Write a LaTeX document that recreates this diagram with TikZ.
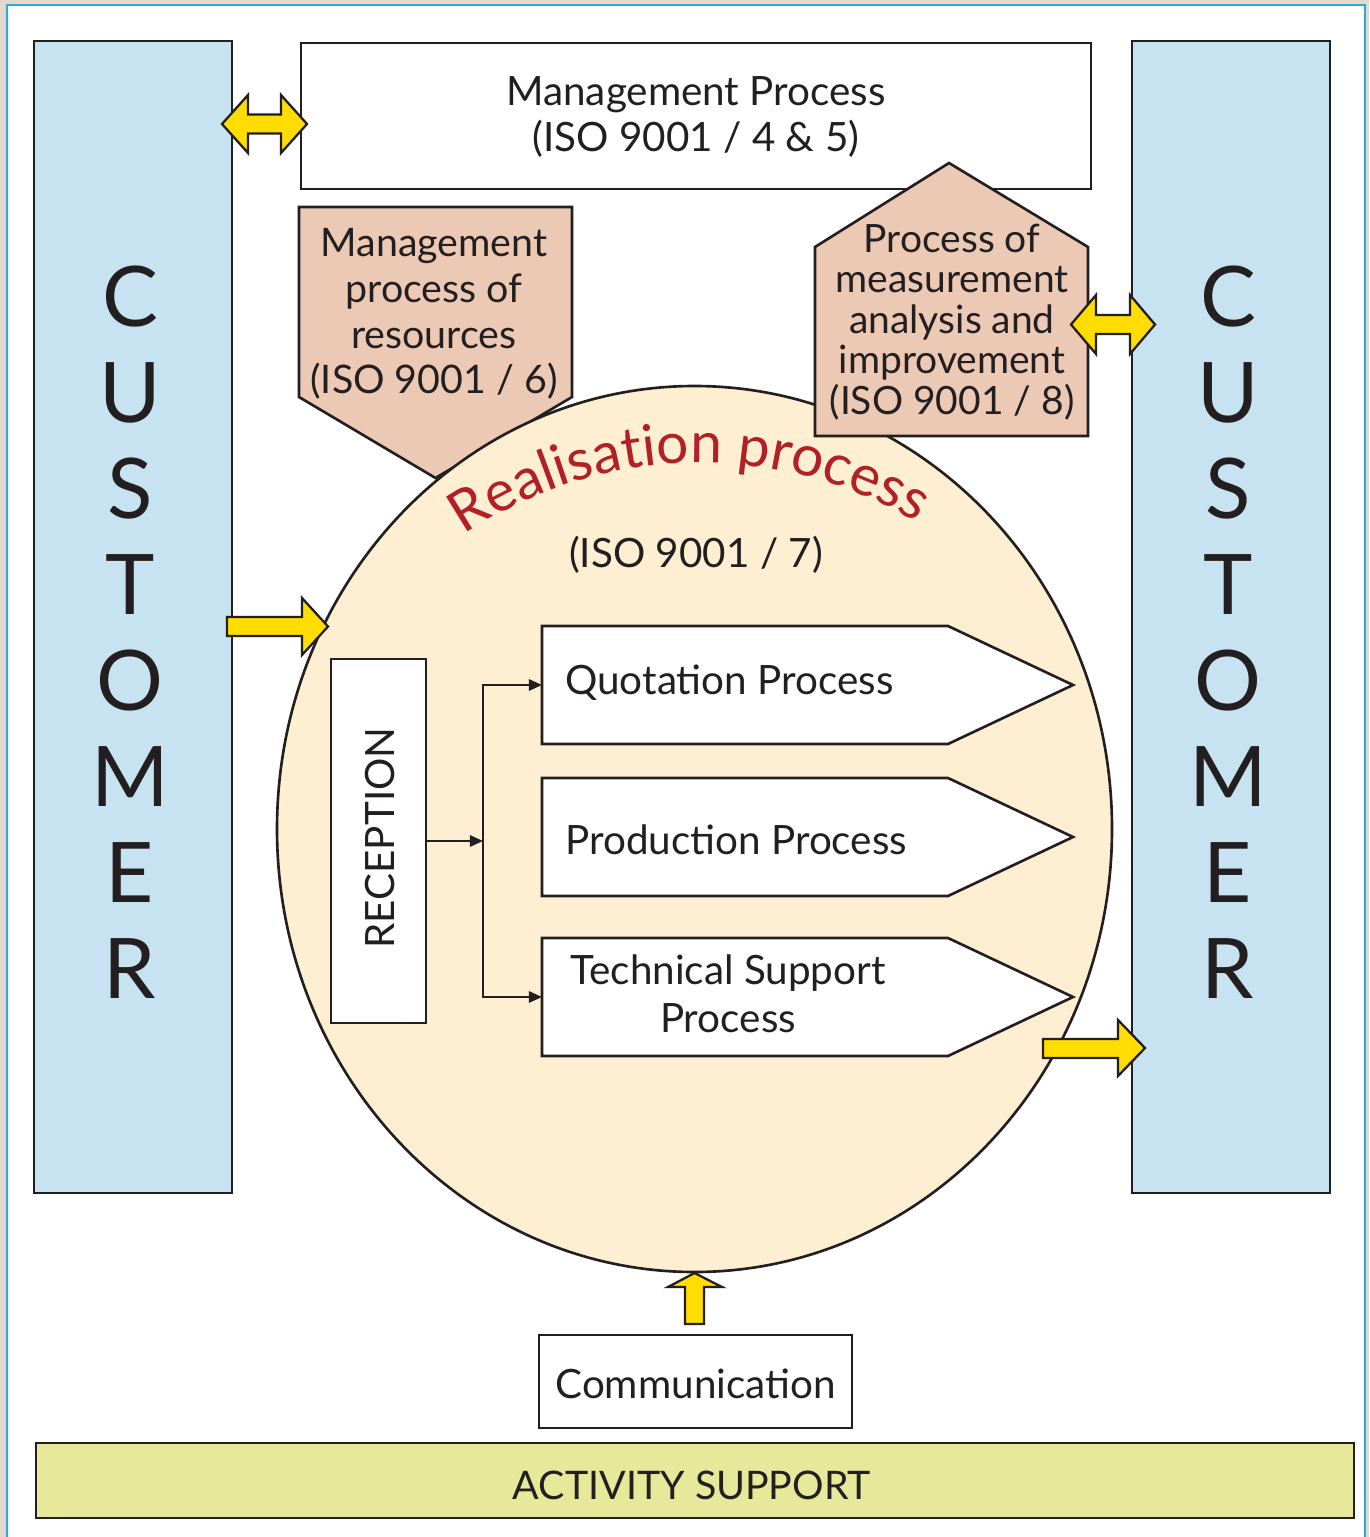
\documentclass[tikz,border=0pt]{standalone}
\usepackage{fontspec}
\setmainfont{Lato}
\usetikzlibrary{arrows.meta,decorations.text}
\definecolor{ink}{HTML}{231F20}
\definecolor{edge}{HTML}{E6D9CB}
\definecolor{framecol}{HTML}{29ABE2}
\definecolor{custblue}{HTML}{C7E2F0}
\definecolor{pent}{HTML}{ECC9B5}
\definecolor{cream}{HTML}{FEEFD3}
\definecolor{yel}{HTML}{FFDD00}
\definecolor{act}{HTML}{E6E999}
\definecolor{realred}{HTML}{B21F24}
\def\u{0.02cm}
\tikzset{
  box/.style={draw=ink, line width=1.5pt, outer sep=0pt, inner sep=0pt},
  txt/.style={text=ink, font=\fontsize{23}{26.7}\selectfont, align=center, inner sep=0pt},
  smalltxt/.style={text=ink, font=\fontsize{22.2}{23}\selectfont, align=center, inner sep=0pt},
  bigletter/.style={text=ink, font=\fontsize{47.6}{50}\selectfont, inner sep=0pt},
  yarr/.style={fill=yel, draw=ink, line width=1.3pt, line join=miter},
  conn/.style={draw=ink, line width=1.1pt, -{Triangle[length=7.5pt,width=6.5pt]}},
}
\begin{document}
\begin{tikzpicture}[x=0.02cm, y=-0.02cm]
\useasboundingbox (0,0) rectangle (1369,1537);
\fill[edge] (0,0) rectangle (1369,1537);
\draw[framecol, line width=1.3pt, fill=white] (7,5) rectangle (1365,1570);

% customer columns
\node[box, fill=custblue, minimum width=198*\u, minimum height=1152*\u] (custL) at (133,617) {};
\node[box, fill=custblue, minimum width=198*\u, minimum height=1152*\u] (custR) at (1231,617) {};
\foreach \l [count=\i from 0] in {C,U,S,T,O,M,E,R}{
  \node[bigletter] (cl\i) at (130,297+96*\i) {\l};
  \node[bigletter] (cr\i) at (1228,297+96*\i) {\l};
}

% management process
\node[box, fill=white, minimum width=790*\u, minimum height=146*\u] (mgmt) at (696,116) {};
\node[txt] (mgmtt) at (696,117) {Management Process\\(ISO 9001 / 4 \& 5)};

% resources pentagon
\draw[box, fill=pent] (299,207) -- (572,207) -- (572,397) -- (435.5,478) -- (299,397) -- cycle;
\node[txt, font=\fontsize{22.4}{26}\selectfont] (rest) at (434,314) {Management\\process of\\resources\\(ISO 9001 / 6)};

% realisation circle
\draw[box, fill=cream] (694.5,829) ellipse [x radius=417.5, y radius=443];
\path[decorate, decoration={text along path, text align=left,
  text={|\fontsize{32.4}{33}\selectfont\color{realred}|Realisation process}}]
  (464,535) arc[start angle=-124, end angle=-50, radius=422];
\node[txt] (iso7) at (696,555) {(ISO 9001 / 7)};

% measurement pentagon
\draw[box, fill=pent] (815,436) -- (815,247) -- (949,163) -- (1088,247) -- (1088,436) -- cycle;
\node[smalltxt] (meast) at (952,322) {Process of\\measurement\\analysis and\\improvement\\(ISO 9001 / 8)};

% reception
\node[box, fill=white, minimum width=95*\u, minimum height=364*\u] (rec) at (378.5,841) {};
\node[txt, rotate=90] (rect) at (380,838) {RECEPTION};

% process arrows
\foreach \n/\y in {q/685, p/837, t/997}{
  \node[outer sep=0pt, inner sep=0pt, minimum width=406*\u, minimum height=118*\u] (\n) at (745,\y) {};
  \draw[box, fill=white] (\n.north west) -- (\n.north east) -- ([xshift=125*\u]\n.east) -- (\n.south east) -- (\n.south west) -- cycle;
}
\node[txt, anchor=west] (qt) at (565,683) {Quotation Process};
\node[txt, anchor=west] (pt) at (565,840) {Production Process};
\node[txt, font=\fontsize{23}{27.3}\selectfont] (tt) at (728,994) {Technical Support\\Process};

% connectors
\coordinate (j) at (483,841);
\draw[conn] (rec.east) -- (j);
\draw[conn] (j) |- (q.west);
\draw[conn] (j) |- (t.west);

% communication and activity support
\node[box, fill=white, minimum width=313*\u, minimum height=93*\u] (comm) at (695.5,1381.5) {};
\node[txt] (commt) at (695.5,1384) {Communication};
\node[box, fill=act, minimum width=1318*\u, minimum height=75*\u] (act) at (695,1480.5) {};
\node[txt, font=\fontsize{22.4}{26}\selectfont] (actt) at (692,1485) {ACTIVITY SUPPORT};

% yellow arrows
\draw[yarr] (222,124) -- (248,95) -- (248,114.5) -- (281,114.5) -- (281,95) -- (307,124)
  -- (281,153) -- (281,133.5) -- (248,133.5) -- (248,153) -- cycle;
\draw[yarr] (1071,324.5) -- (1096,295) -- (1096,315) -- (1130,315) -- (1130,295) -- (1155,324.5)
  -- (1130,354) -- (1130,334) -- (1096,334) -- (1096,354) -- cycle;
\draw[yarr] (227,617) -- (302,617) -- (302,598) -- (328,626.5) -- (302,655) -- (302,636) -- (227,636) -- cycle;
\draw[yarr] (1043,1039) -- (1118,1039) -- (1118,1020) -- (1145,1048) -- (1118,1076) -- (1118,1058) -- (1043,1058) -- cycle;
\draw[yarr] (685,1324) -- (685,1287) -- (668,1287) -- (694.5,1273) -- (722,1287) -- (704,1287) -- (704,1324) -- cycle;
\end{tikzpicture}
\end{document}
